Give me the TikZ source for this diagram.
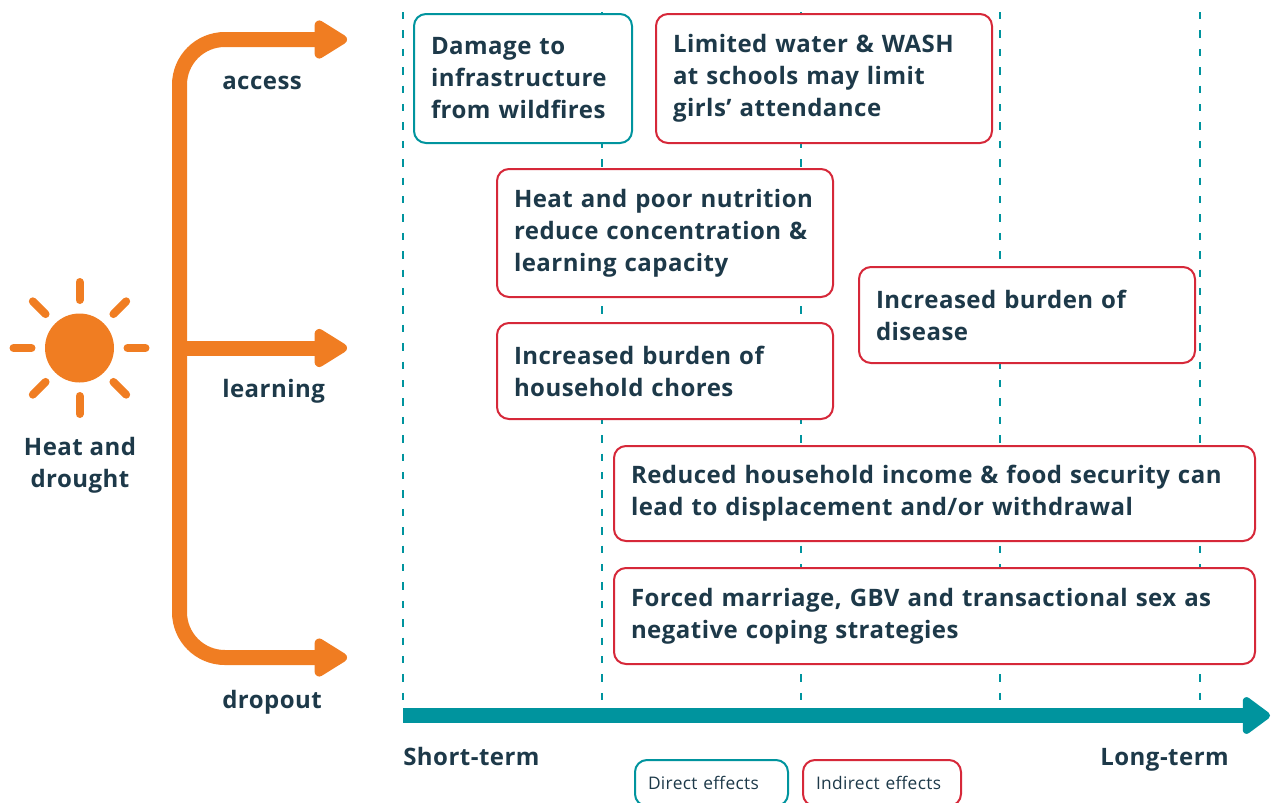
\documentclass[tikz,border=0pt]{standalone}
\usepackage{fontspec}
\setmainfont{Open Sans}[LetterSpace=2]
\usetikzlibrary{arrows.meta}
\definecolor{sunorange}{HTML}{F07D22}
\definecolor{timeteal}{HTML}{00949E}
\definecolor{boxred}{HTML}{D62839}
\definecolor{inkblue}{HTML}{1D3949}
\tikzset{effect/.style={
    draw, fill=white,
    rounded corners=9pt,
    line width=1.5pt,
    anchor=north west,
    align=left,
    inner xsep=12.75pt,
    text=inkblue,
    font=\fontsize{18}{24}\selectfont\bfseries},
  direct/.style={effect, draw=timeteal},
  indirect/.style={effect, draw=boxred},
  keybox/.style={font=\fontsize{13}{15}\selectfont, inner xsep=9.75pt},
  channel/.style={
    text=inkblue,
    inner xsep=0pt,
    font=\fontsize{18}{24}\selectfont\bfseries},
  periodline/.style={
    draw=timeteal,
    line width=1.5pt,
    dash pattern=on 5.6pt off 8.2pt},
  ray/.style={
    draw=sunorange,
    line width=6pt,
    line cap=round},
  bracket/.style={
    draw=sunorange,
    line width=11.25pt},
  bighead/.tip={Triangle[length=27.75pt,width=32pt,round]}}

\begin{document}
\begin{tikzpicture}[x=0.75pt,y=-0.75pt]
	\useasboundingbox (0,0) rectangle (1271,803);
\coordinate (S) at (79.5,348);
\coordinate (stem) at (179.5,348);
\coordinate (top) at (347,39.5);
\coordinate (mid) at (347,348);
\coordinate (bot) at (347,657.5);
\coordinate (short) at (403,715.5);
\coordinate (long) at (1270,715.5);

% time marks
\foreach \t in {403,602,801,1000,1200}
  \draw[periodline] (\t,12) -- (\t,700);

% sun
\fill[sunorange] (S) circle[radius=34.5];
\foreach \a in {0,45,...,315}
  \draw[ray] (S) ++(\a:48) -- ++(\a:18);
\node[channel, align=center] (hazard) at (80,465) {Heat and\\drought};

% channels
\draw[bracket, bighead-bighead, rounded corners=34pt] (top) -- (top -| stem) -- (bot -| stem) -- (bot);
\draw[bracket, -bighead] (stem) -- (mid);
\node[channel, anchor=base west] (access) at (222,89) {access};
\node[channel, anchor=base west] (learning) at (222,397) {learning};
\node[channel, anchor=base west] (dropout) at (222,708) {dropout};

% time axis
\draw[draw=timeteal, line width=11.25pt, -{Triangle[length=22.5pt,width=31.5pt,round]}] (short) -- (long);
\node[channel, anchor=base west] (shortterm) at (403,765) {Short-term};
\node[channel, anchor=base east] (longterm) at (1229,765) {Long-term};

% effects
\node[direct, text width=138pt, minimum height=96.75pt] (fire) at (413,13) {Damage to\\infrastructure\\from wildfires};
\node[indirect, text width=226.5pt, minimum height=96.75pt] (wash) at (655,13) {Limited water \& WASH\\at schools may limit\\girls’ attendance};
\node[indirect, text width=226.5pt, minimum height=96pt] (nutrition) at (496,168) {Heat and poor nutrition\\reduce concentration \&\\learning capacity};
\node[indirect, text width=226.5pt, minimum height=72pt] (chores) at (496,322) {Increased burden of\\household chores};
\node[indirect, text width=226.5pt, minimum height=72pt] (disease) at (858,266) {Increased burden of\\disease};
\node[indirect, text width=455.25pt, minimum height=71.25pt] (income) at (613,445) {Reduced household income \& food security can\\lead to displacement and/or withdrawal};
\node[indirect, text width=455.25pt, minimum height=72pt] (marriage) at (613,567) {Forced marriage, GBV and transactional sex as\\negative coping strategies};

% key
\node[direct, keybox, text width=95.25pt, minimum height=34.5pt] (keydirect) at (634,759) {Direct effects};
\node[indirect, keybox, text width=99pt, minimum height=34.5pt] (keyindirect) at (802,759) {Indirect effects};

\end{tikzpicture}
\end{document}
